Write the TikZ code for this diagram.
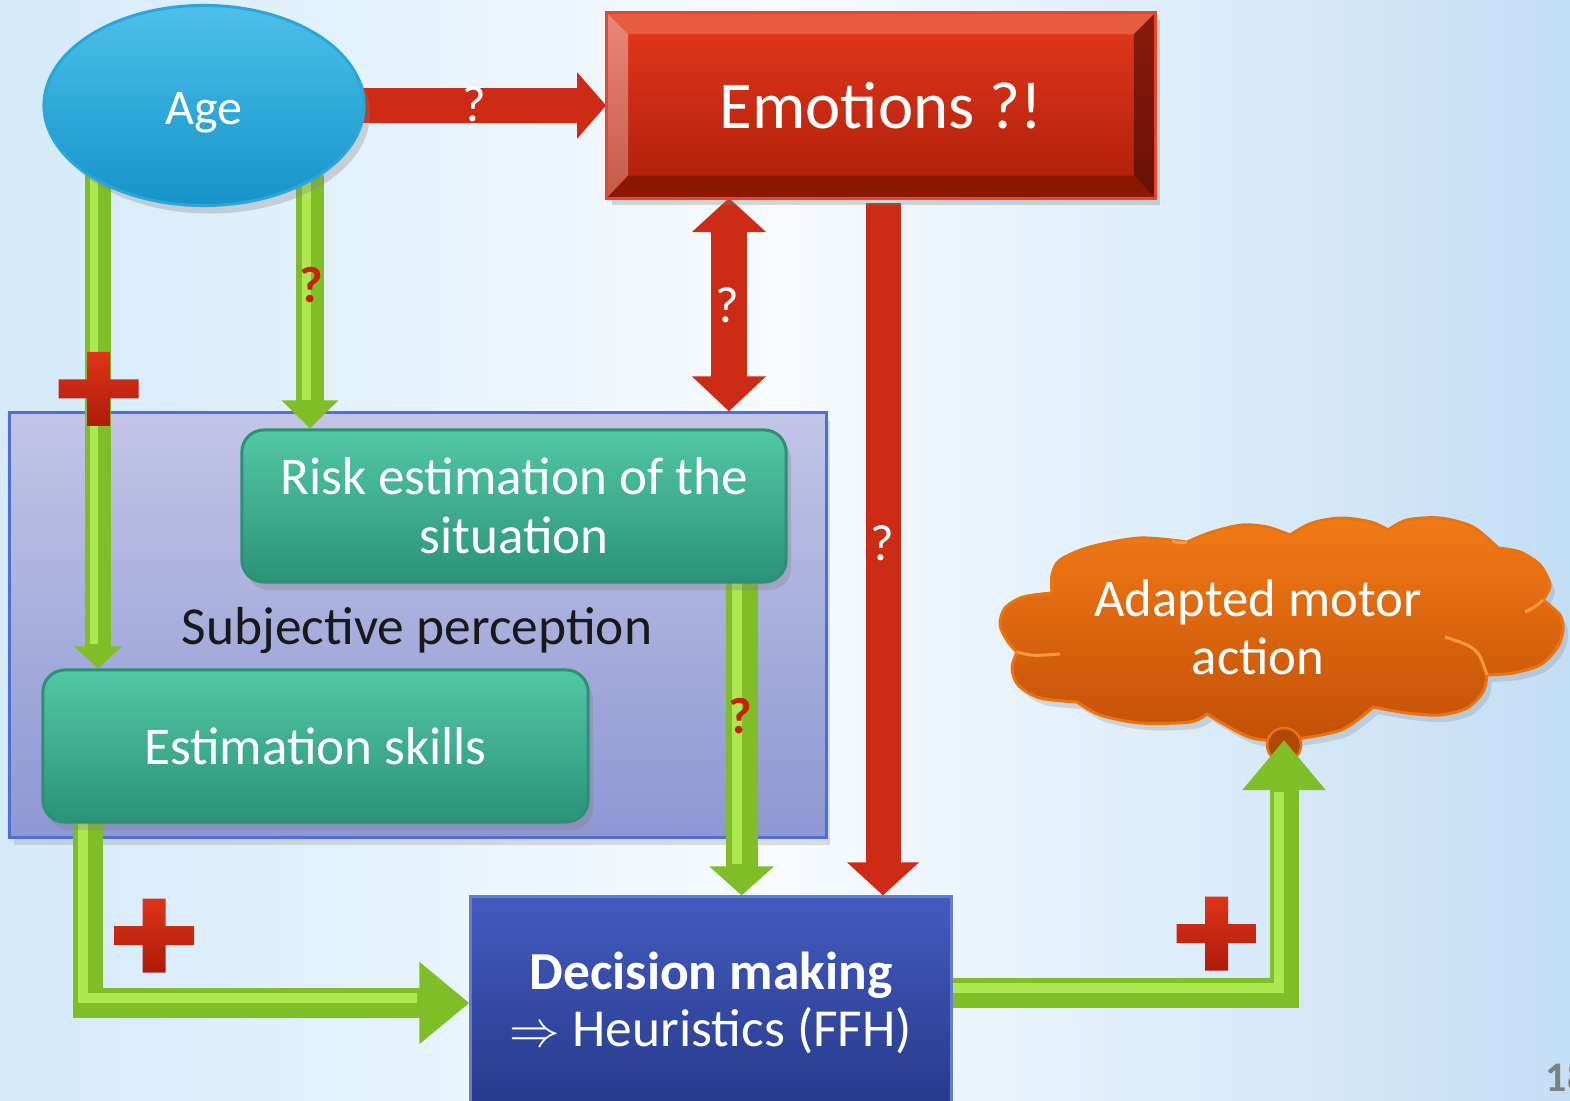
\documentclass[tikz,border=0pt]{standalone}
\usepackage{fontspec}
\setmainfont{Carlito}
\usetikzlibrary{arrows.meta,shapes.geometric,calc,shadows}
\pgfdeclarelayer{back}
\pgfdeclarelayer{arr}
\pgfsetlayers{back,arr,main}
\definecolor{bgL}{HTML}{D4EAFA}
\definecolor{bgM}{HTML}{F7FBFE}
\definecolor{bgR}{HTML}{C3DEF5}
\definecolor{ageT}{HTML}{4DC0EA}
\definecolor{ageB}{HTML}{1593C8}
\definecolor{ageD}{HTML}{2AA6D8}
\definecolor{emT}{HTML}{E3391B}
\definecolor{emB}{HTML}{AD1E0B}
\definecolor{bevT}{HTML}{E65C42}
\definecolor{bevLT}{HTML}{E8887A}
\definecolor{bevLB}{HTML}{C65A48}
\definecolor{bevRT}{HTML}{8A1C0C}
\definecolor{bevRB}{HTML}{681005}
\definecolor{bevB}{HTML}{8C1700}
\definecolor{emD}{HTML}{E4472C}
\definecolor{redA}{HTML}{CD2B15}
\definecolor{grA}{HTML}{80BE28}
\definecolor{grAL}{HTML}{ADE853}
\definecolor{boxT}{HTML}{52C7A3}
\definecolor{boxB}{HTML}{2B9378}
\definecolor{boxD}{HTML}{2E8F74}
\definecolor{subT}{HTML}{C3C5E7}
\definecolor{subB}{HTML}{8D97D2}
\definecolor{subD}{HTML}{4F6ED8}
\definecolor{decT}{HTML}{435BBF}
\definecolor{decB}{HTML}{27398A}
\definecolor{clT}{HTML}{F27B17}
\definecolor{clB}{HTML}{C25006}
\definecolor{clD}{HTML}{E8730F}
\definecolor{clL}{HTML}{F59A45}
\definecolor{plusT}{HTML}{DE3419}
\definecolor{plusB}{HTML}{AE1C0A}
\definecolor{qred}{HTML}{C8200E}
\definecolor{pgray}{HTML}{7F7F7F}
\tikzset{
  qw/.style={text=white, font=\fontsize{14.5}{17}\selectfont, inner sep=0},
  qr/.style={text=qred, font=\bfseries\fontsize{14.5}{17}\selectfont, inner sep=0},
  greenbox/.style={rounded corners=2.2mm, top color=boxT, bottom color=boxB, draw=boxD,
    line width=0.3mm, text=white, align=center, inner sep=0,
    font=\fontsize{15.1}{16.8}\selectfont,
    drop shadow={opacity=0.3, shadow xshift=0.5mm, shadow yshift=-0.8mm}},
  redarr/.style={draw=redA, line width=#1},
  grarr/.style={draw=grA, line width=#1},
  grhi/.style={draw=grAL, line width=#1},
  puffline/.style={draw=clL, line width=0.3mm},
  plusmark/.pic={
    \shade[top color=plusT, bottom color=plusB]
      (-11.5,-37) -- (11.5,-37) -- (11.5,-9.5) -- (40,-9.5) -- (40,9.5) -- (11.5,9.5)
      -- (11.5,37) -- (-11.5,37) -- (-11.5,9.5) -- (-40,9.5) -- (-40,-9.5) -- (-11.5,-9.5) -- cycle;
  }
}
\begin{document}
\begin{tikzpicture}[x=0.01cm,y=-0.01cm]
\useasboundingbox (0,0) rectangle (1570,1101);
\begin{pgfonlayer}{back}
  \shade[left color=bgL, right color=bgR, middle color=bgM] (0,0) rectangle (1570,1101);
  \node[minimum width=8.16cm, minimum height=4.24cm, inner sep=0, top color=subT, bottom color=subB,
        draw=subD, line width=0.3mm,
        drop shadow={opacity=0.25, shadow xshift=0.4mm, shadow yshift=-0.8mm}] (sub) at (418,625) {};
\end{pgfonlayer}

% nodes
\node[ellipse, minimum width=3.2cm, minimum height=2.0cm, inner sep=0, top color=ageT, bottom color=ageB,
      draw=ageD, line width=0.3mm, text=white, font=\fontsize{14.2}{17}\selectfont,
      text height=3.9mm, text depth=0pt,
      drop shadow={opacity=0.3, shadow xshift=0.6mm, shadow yshift=-0.8mm}] (age) at (204,105.5) {Age};

\node[minimum width=5.48cm, minimum height=1.85cm, inner sep=0, top color=emT, bottom color=emB,
      text=white, font=\fontsize{19}{23}\selectfont,
      drop shadow={opacity=0.3, shadow xshift=0.5mm, shadow yshift=-0.7mm}] (emo) at (881,105.5) {Emotions ?!};
\fill[bevT] (emo.north west) -- (emo.north east) -- ($(emo.north east)+(-22,22)$) -- ($(emo.north west)+(22,22)$) -- cycle;
\shade[top color=bevLT, bottom color=bevLB] (emo.north west) -- ($(emo.north west)+(22,22)$) -- ($(emo.south west)+(22,-23)$) -- (emo.south west) -- cycle;
\shade[top color=bevRT, bottom color=bevRB] (emo.north east) -- ($(emo.north east)+(-22,22)$) -- ($(emo.south east)+(-22,-23)$) -- (emo.south east) -- cycle;
\fill[bevB] (emo.south west) -- ($(emo.south west)+(22,-23)$) -- ($(emo.south east)+(-22,-23)$) -- (emo.south east) -- cycle;
\draw[emD, line width=0.3mm] (emo.north west) rectangle (emo.south east);

\node[greenbox, minimum width=5.44cm, minimum height=1.52cm] (risk) at (514,506) {Risk estimation of the\\situation};
\node[greenbox, minimum width=5.45cm, minimum height=1.52cm] (est) at (315.5,746) {Estimation skills};
\node[text=black!90, inner sep=0, font=\fontsize{15.2}{17}\selectfont] (sublbl) at (417,631) {Subjective perception};

\node[minimum width=4.8cm, minimum height=2.12cm, inner sep=0, top color=decT, bottom color=decB,
      draw=decT!80!white, line width=0.3mm, text=white, align=center, font=\fontsize{15.2}{16.3}\selectfont] (dec) at (711,1003)
      {\textbf{Decision making}\\$\Rightarrow$ Heuristics (FFH)};

\node[text=white, align=center, inner sep=0, font=\fontsize{15}{16.5}\selectfont] (cloudtxt) at (1258,627) {Adapted motor\\action};

\node[anchor=west, text=pgray, inner sep=0, font=\bfseries\fontsize{12}{14}\selectfont] (pnum) at (1545,1077) {18};

% coordinates for connector ends
\coordinate (lA) at (98,175);
\coordinate (rA) at (310,175);
\coordinate (rB) at ($(risk.south east)+(-46,-2)$);
\coordinate (eB) at ($(est.south west)+(47,-2)$);
\coordinate (dR) at ($(dec.east)+(0,-10)$);
\coordinate (cT) at (1284,740);
\coordinate (dT) at (729,198);
\coordinate (eR) at (883,203);

\begin{pgfonlayer}{arr}
  % cloud
  \path[top color=clT, bottom color=clB, draw=clD, line width=0.3mm,
        drop shadow={opacity=0.25, shadow xshift=0.5mm, shadow yshift=-0.7mm}]
    (1017,652)
    -- plot[smooth] coordinates {(1017,652) (1008,642) (1000,625) (1005,608) (1023,597) (1052,593)}
    -- plot[smooth] coordinates {(1052,593) (1052,575) (1060,560) (1090,547) (1140,538) (1187,542)}
    -- plot[smooth] coordinates {(1187,542) (1212,532) (1242,525) (1267,527) (1290,535)}
    -- plot[smooth] coordinates {(1290,535) (1312,523) (1341,518) (1371,522) (1388,530)}
    -- plot[smooth] coordinates {(1388,530) (1407,520) (1440,518) (1473,527) (1498,548)}
    -- plot[smooth] coordinates {(1498,548) (1520,552) (1540,565) (1550,585) (1543,600)}
    -- plot[smooth] coordinates {(1543,600) (1560,615) (1563,630) (1557,648) (1540,665) (1513,673) (1487,675)}
    -- plot[smooth] coordinates {(1487,675) (1483,692) (1467,708) (1440,715) (1407,713) (1373,707)}
    -- plot[smooth] coordinates {(1373,707) (1341,730) (1286,740) (1249,737) (1207,714)}
    -- plot[smooth] coordinates {(1207,714) (1190,722) (1140,723) (1100,715) (1077,702)}
    -- plot[smooth] coordinates {(1077,702) (1040,698) (1018,685) (1012,668) (1017,652)}
    -- cycle;
  \draw[puffline] (1017,652) .. controls (1032,656) .. (1060,654);
  \draw[puffline] (1487,675) .. controls (1478,648) .. (1445,637);
  \draw[puffline] (1543,600) .. controls (1535,607) .. (1525,612);
  \draw[puffline] (1187,542) .. controls (1180,543) .. (1172,541);
  % red arrows
  \draw[redarr=3.5mm, -{Triangle[length=2.9mm,width=6.5mm]}] ($(age.east)+(-30,0)$) -- (emo.west);
  \draw[redarr=3.6mm, {Triangle[length=3.4mm,width=7.2mm]}-{Triangle[length=3.5mm,width=7.2mm]}] (dT) -- (dT |- sub.north);
  \draw[redarr=3.5mm, -{Triangle[length=3.3mm,width=7mm]}] (eR) -- (eR |- dec.north);
  % green arrows
  \draw[grarr=2.5mm, -{Triangle[length=2.2mm,width=4.7mm]}] (lA) -- (lA |- est.north);
  \draw[grhi=0.8mm] ($(lA)+(-4,0)$) -- ($(lA |- est.north)+(-4,-24)$);
  \draw[grarr=2.8mm, -{Triangle[length=2.8mm,width=5.5mm]}] (rA) -- (rA |- risk.north);
  \draw[grhi=0.9mm] ($(rA)+(-4,0)$) -- ($(rA |- risk.north)+(-4,-28)$);
  \draw[grarr=3.2mm, -{Triangle[length=2.9mm,width=6.3mm]}] (rB) -- (rB |- dec.north);
  \draw[grhi=1mm] ($(rB)+(-5,0)$) -- ($(rB |- dec.north)+(-5,-31)$);
  \draw[grarr=3mm, -{Triangle[length=5mm,width=7.9mm]}] (eB) |- (dec.west);
  \draw[grhi=1mm] ($(eB)+(-5,0)$) |- ($(dec.west)+(-52,-5)$);
  \filldraw[fill=clB!90!black, draw=clD, line width=0.25mm] ($(cT)+(0,5)$) circle[radius=17];
  \draw[grarr=2.9mm, -{Triangle[length=5mm,width=8mm]}] (dR) -| (cT);
  \draw[grhi=1mm] ($(dR)+(0,-5)$) -| ($(cT)+(-5,52)$);
\end{pgfonlayer}

% labels on connectors
\node[qw] (q1) at (474,104) {?};
\node[qw] (q2) at (727,305) {?};
\node[qw] (q3) at (882,543) {?};
\node[qr] (q4) at (311,285) {?};
\node[qr] (q5) at (740,716) {?};

% plus marks
\pic at (98.5,389) {plusmark};
\pic at (154,935.5) {plusmark};
\pic at (1216.5,933.5) {plusmark};
\end{tikzpicture}
\end{document}
